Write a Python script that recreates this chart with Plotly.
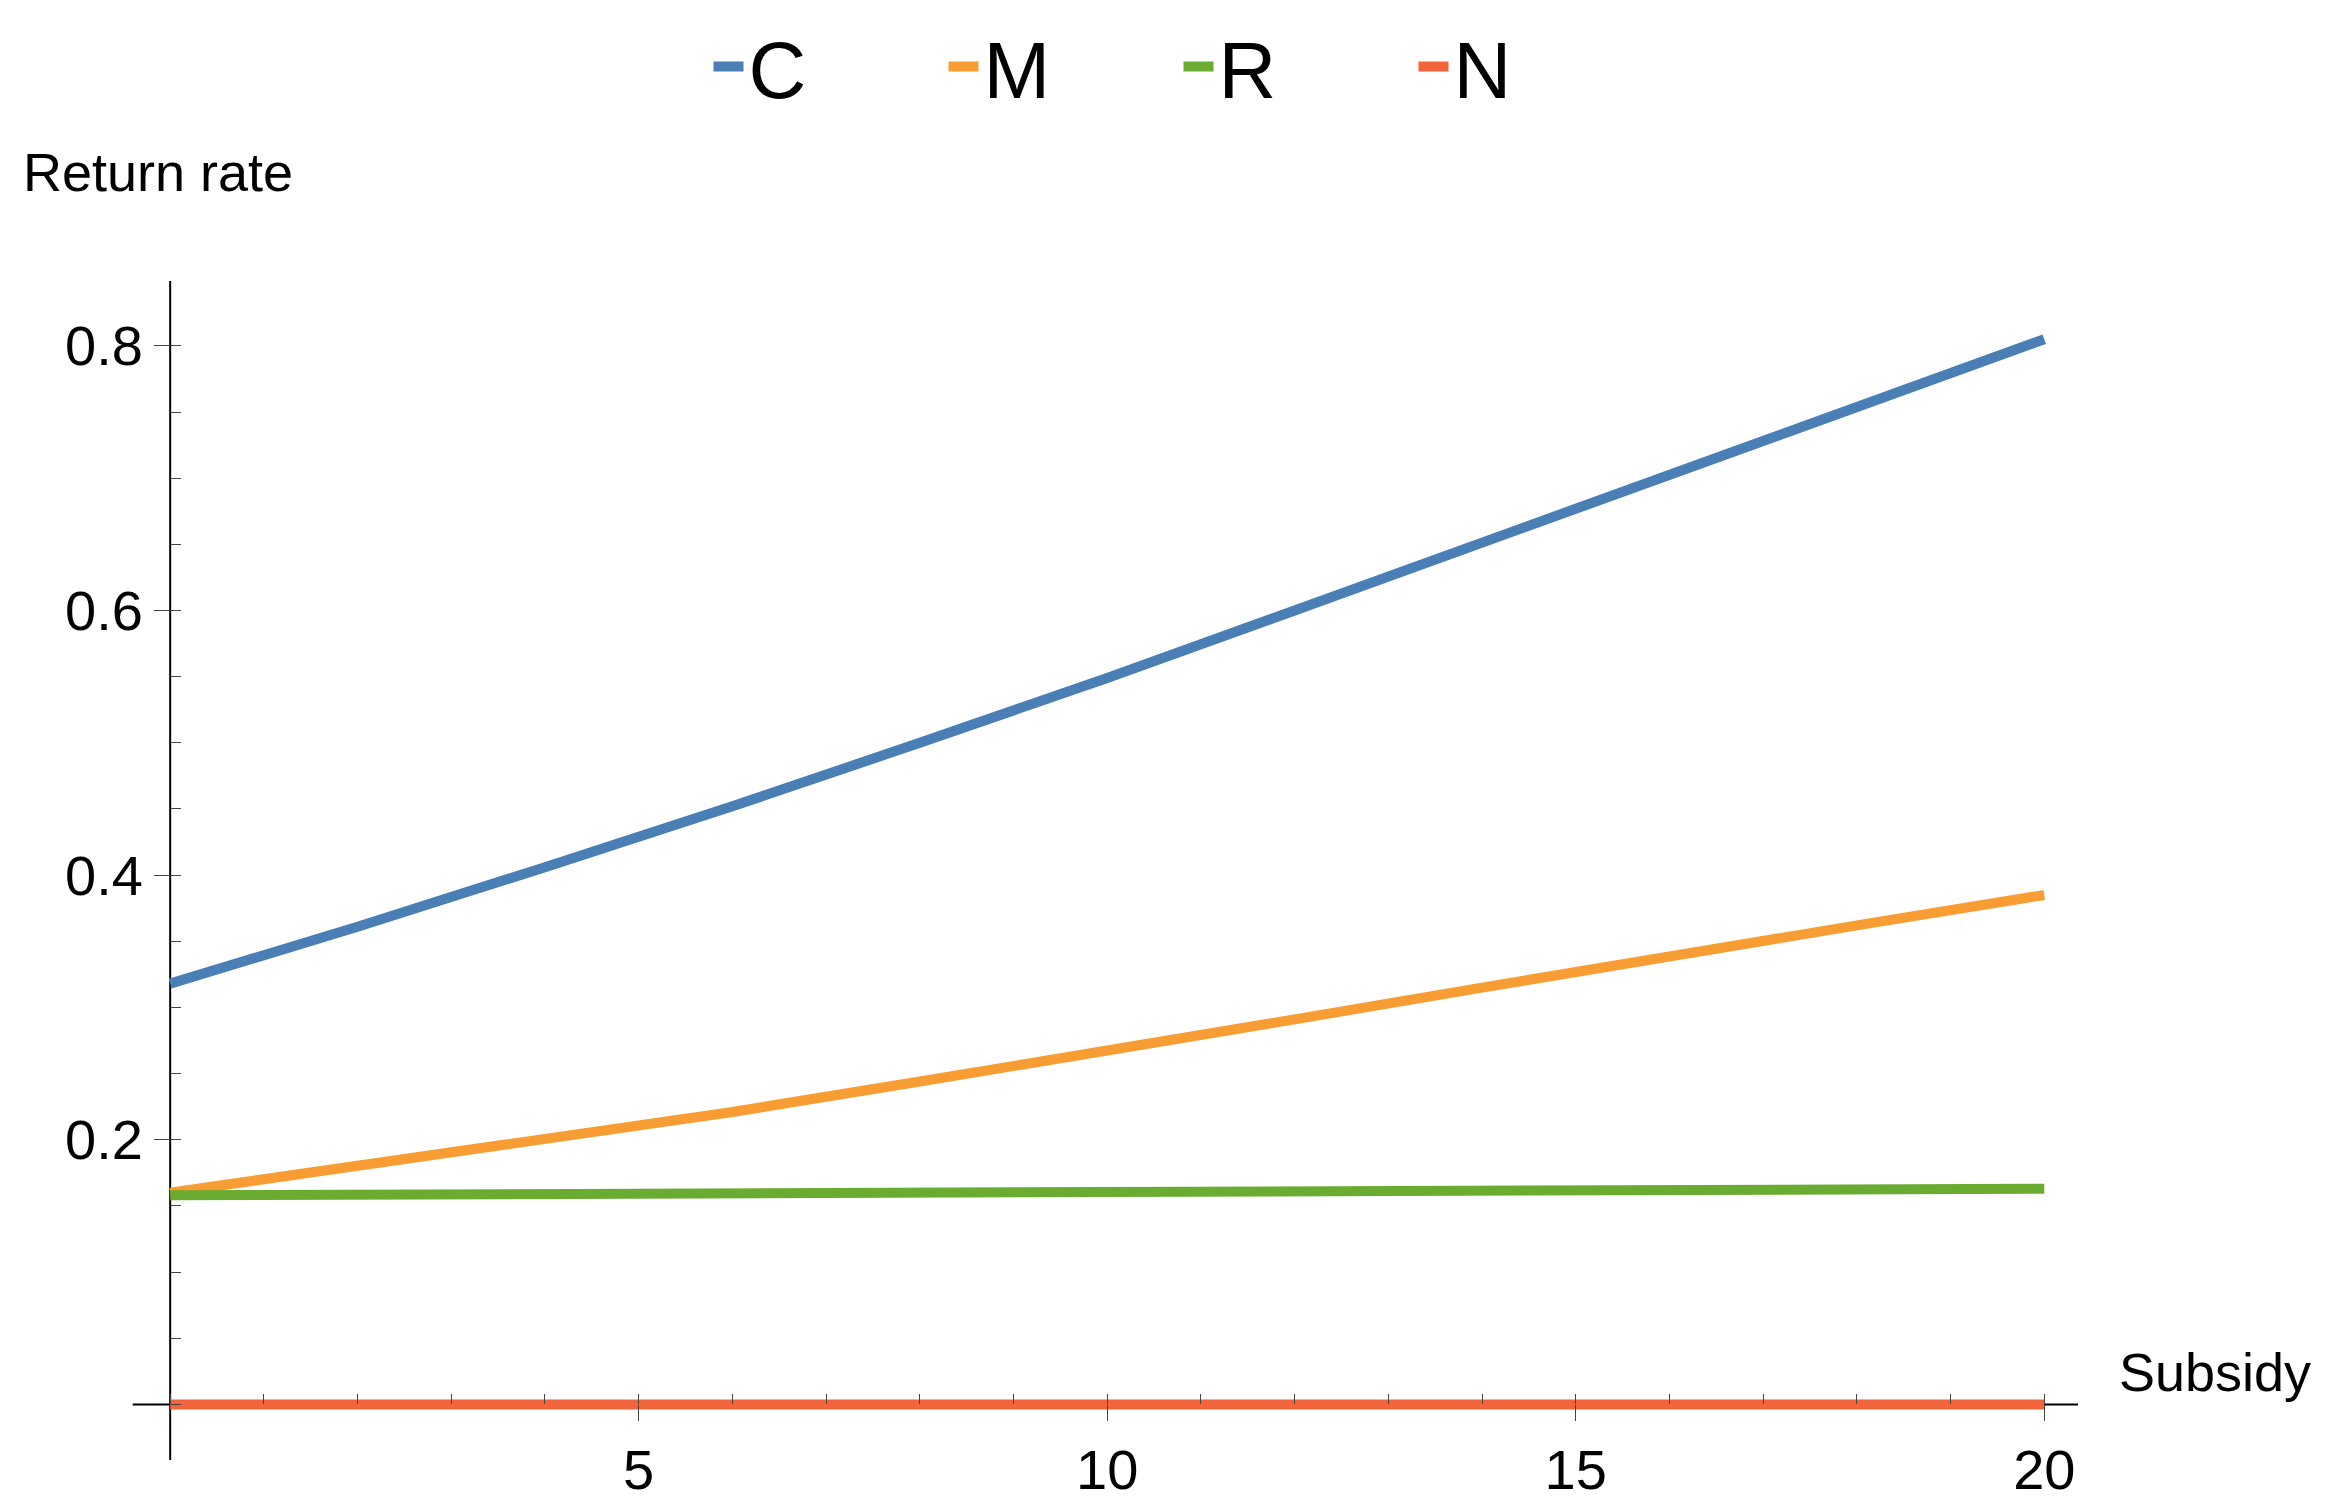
import plotly.graph_objects as go

subsidy = [0, 2, 4, 6, 8, 10, 12, 14, 16, 18, 20]
c_rate = [0.318, 0.361, 0.406, 0.452, 0.500, 0.549, 0.600, 0.651, 0.702, 0.754, 0.805]
m_rate = [0.160, 0.180, 0.200, 0.221, 0.244, 0.267, 0.291, 0.315, 0.339, 0.362, 0.385]
r_rate = [0.158, 0.1585, 0.159, 0.1595, 0.160, 0.1605, 0.161, 0.1615, 0.162, 0.1625, 0.163]
n_rate = [0, 0, 0, 0, 0, 0, 0, 0, 0, 0, 0]

series = [("C", c_rate, "#4a7fb5"), ("M", m_rate, "#f89d33"),
          ("R", r_rate, "#6aab32"), ("N", n_rate, "#f2643c")]

fig = go.Figure()
for name, vals, col in series:
    fig.add_trace(go.Scatter(x=subsidy, y=vals, name=name, mode="lines",
                             line=dict(color=col, width=10)))

xr = [-0.45, 20.36]
yr = [-0.042, 0.849]
fig.update_layout(
    width=2341, height=1505, plot_bgcolor="white", paper_bgcolor="white",
    margin=dict(l=120, r=271, t=273, b=35),
    font=dict(family="Liberation Sans, Arial", color="black", size=56),
    legend=dict(orientation="h", x=0.5, xanchor="center", y=1.0, yanchor="top",
                xref="container", yref="container", font=dict(size=80),
                entrywidth=190),
    xaxis=dict(range=xr, tickvals=[5, 10, 15, 20], ticks="outside", ticklen=16,
               showgrid=False, showline=False, zeroline=False,
               anchor="free", position=(0 - yr[0]) / (yr[1] - yr[0]),
               minor=dict(dtick=1, ticks="inside", ticklen=10, tickcolor="#444")),
    yaxis=dict(range=yr, tickvals=[0.2, 0.4, 0.6, 0.8], ticks="outside", ticklen=16,
               showgrid=False, showline=False, zeroline=False,
               anchor="free", position=(0 - xr[0]) / (xr[1] - xr[0]),
               minor=dict(dtick=0.05, ticks="inside", ticklen=10, tickcolor="#444")),
)
fig.add_shape(type="line", xref="x", yref="y", x0=-0.4, x1=xr[1], y0=0, y1=0,
              line=dict(color="black", width=2), layer="below")
fig.add_shape(type="line", xref="x", yref="y", x0=0, x1=0, y0=yr[0], y1=yr[1],
              line=dict(color="black", width=2), layer="below")
fig.add_annotation(text="Return rate", xref="paper", yref="paper", x=-0.055, y=1.065,
                   xanchor="left", yanchor="bottom", showarrow=False, font=dict(size=54))
fig.add_annotation(text="Subsidy", xref="paper", yref="paper", x=1.02,
                   y=(0 - yr[0]) / (yr[1] - yr[0]),
                   xanchor="left", yanchor="bottom", showarrow=False, font=dict(size=54))
fig.write_html("out.html")
